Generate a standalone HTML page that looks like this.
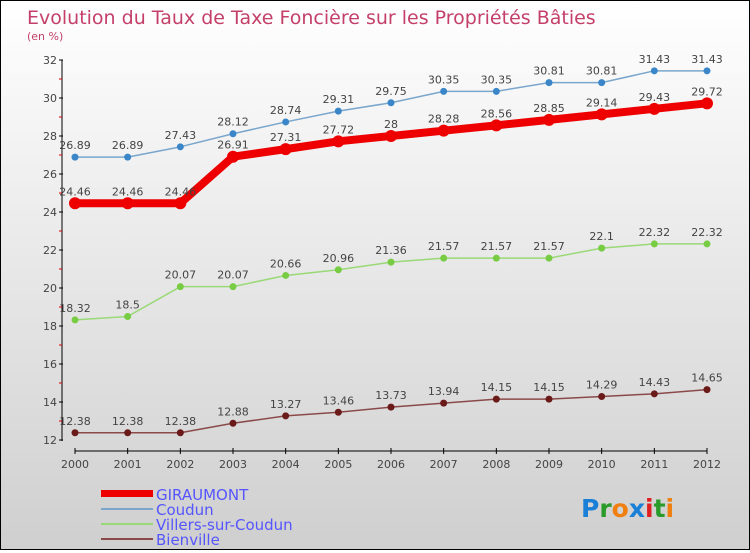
<!DOCTYPE html>
<html><head><meta charset="utf-8"><style>
body{margin:0;width:750px;height:550px;overflow:hidden}
#c{position:relative;width:748px;height:548px;border:1px solid #000;background:linear-gradient(#ffffff,#cfcfcf);font-family:"DejaVu Sans","Liberation Sans",sans-serif}
</style></head><body>
<div id="c">
<svg width="748" height="548" xmlns="http://www.w3.org/2000/svg" id="svg">
<text x="26" y="23" font-size="19" fill="#c4406a">Evolution du Taux de Taxe Foncière sur les Propriétés Bâties</text>
<text x="26" y="39" font-size="11" fill="#c4406a">(en %)</text>
<g id="axes"></g><g id="series"></g>
<g>
<rect x="100" y="489" width="52" height="7" fill="#ee0000"/>
<text x="155" y="499" font-size="15" fill="#5555ff">GIRAUMONT</text>
<rect x="100" y="507" width="52" height="2" fill="#7aa6cc"/>
<text x="155" y="514" font-size="15" fill="#5555ff">Coudun</text>
<rect x="100" y="522" width="52" height="2" fill="#99d977"/>
<text x="155" y="529" font-size="15" fill="#5555ff">Villers-sur-Coudun</text>
<rect x="100" y="537" width="52" height="2" fill="#8b4a4a"/>
<text x="155" y="544" font-size="15" fill="#5555ff">Bienville</text>
</g>
<text x="580" y="516" font-size="25" font-weight="bold"><tspan fill="#1a7fd6">P</tspan><tspan fill="#2a9a2a">r</tspan><tspan fill="#f07f10">o</tspan><tspan fill="#1a7fd6">x</tspan><tspan fill="#e02020">i</tspan><tspan fill="#2a9a2a">t</tspan><tspan fill="#f07f10">i</tspan></text>
</svg></div>
<script>
const years=[2000,2001,2002,2003,2004,2005,2006,2007,2008,2009,2010,2011,2012];
const giraumont=[24.46,24.46,24.46,26.91,27.31,27.72,28,28.28,28.56,28.85,29.14,29.43,29.72];
const coudun=[26.89,26.89,27.43,28.12,28.74,29.31,29.75,30.35,30.35,30.81,30.81,31.43,31.43];
const villers=[18.32,18.5,20.07,20.07,20.66,20.96,21.36,21.57,21.57,21.57,22.1,22.32,22.32];
const bienville=[12.38,12.38,12.38,12.88,13.27,13.46,13.73,13.94,14.15,14.15,14.29,14.43,14.65];
const yTicks=[12,14,16,18,20,22,24,26,28,30,32];
const NS="http://www.w3.org/2000/svg";
const x=i=>74+i*(632/(years.length-1));
const y=v=>439-(v-12)*19;
function mk(t,a,p){const e=document.createElementNS(NS,t);for(const k in a)e.setAttribute(k,a[k]);p.appendChild(e);return e;}
const ax=document.getElementById('axes');
let e=mk('line',{x1:61,y1:59,x2:61,y2:440,stroke:'#000','stroke-width':1},ax);


e=mk('line',{x1:74,y1:450,x2:706,y2:450,stroke:'#000','stroke-width':1},ax);


yTicks.forEach(t=>{
  mk('line',{x1:58,y1:y(t),x2:62,y2:y(t),stroke:'#000'},ax);
  if(t<32) mk('line',{x1:58,y1:y(t+1),x2:61,y2:y(t+1),stroke:'#d00'},ax);
  const tx=mk('text',{x:56,y:y(t)+4,'font-size':11,fill:'#444','text-anchor':'end'},ax);tx.textContent=t;
  
  
});
years.forEach((yr,i)=>{
  mk('line',{x1:x(i),y1:447,x2:x(i),y2:453,stroke:'#000'},ax);
  const tx=mk('text',{x:x(i),y:467,'font-size':11,fill:'#444','text-anchor':'middle'},ax);tx.textContent=yr;
  
  
});
const sg=document.getElementById('series');
function series(vals,name,col,w,r,dot){
  const g=mk('g',{},sg);
  
  
  const pl=mk('polyline',{points:vals.map((v,i)=>x(i)+','+y(v)).join(' '),fill:'none',stroke:col,'stroke-width':w,'stroke-linejoin':'round'},g);
  
  
  vals.forEach((v,i)=>{
    const c=mk('circle',{cx:x(i),cy:y(v),r:r,fill:dot},g);
    
    
    const t=mk('text',{x:x(i),y:y(v)-8,'font-size':11,fill:'#444','text-anchor':'middle'},g);
    t.textContent=String(v).replace('.', '.');
    
    
  });
}
series(bienville,'bienville','#8b4a4a',1.5,3.5,'#6b1a1a');
series(villers,'villers','#99d977',1.5,3.5,'#77cc44');
series(coudun,'coudun','#7aa6cc',1.5,3.5,'#3a86c8');
series(giraumont,'giraumont','#ee0000',8,6,'#ee0000');
</script>
</body></html>
